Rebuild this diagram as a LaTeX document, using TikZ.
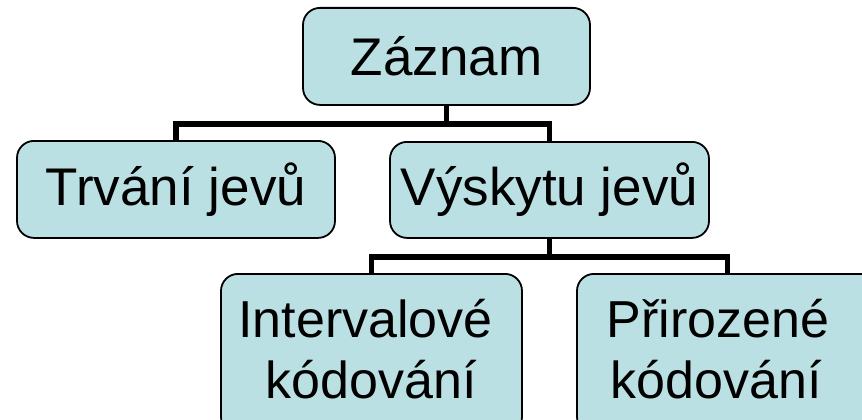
\documentclass[tikz,border=0pt]{standalone}
\usepackage{fontspec}
\setmainfont{Liberation Sans}
\usetikzlibrary{calc}
\definecolor{boxfill}{HTML}{BBE0E3}
\tikzset{
  box/.style={draw=black, line width=1.8pt, fill=boxfill, rounded corners=17pt, inner sep=0pt},
  txt/.style={inner sep=0pt, font=\fontsize{53}{61}\selectfont},
  txtb/.style={inner sep=0pt, font=\fontsize{52}{61}\selectfont},
  conn/.style={line width=5.5pt, line join=miter, draw=black}
}
\begin{document}
\begin{tikzpicture}[x=1pt,y=-1pt]
\useasboundingbox (0,0) rectangle (862,420);
% boxes
\node[box, txt, minimum width=287pt, minimum height=97pt, anchor=north] (zaz) at (446.5,7) {Záznam};
\node[box, txt, minimum width=318pt, minimum height=97pt, anchor=north] (trv) at (176,140) {Trvání jevů};
\node[box, txt, minimum width=319pt, minimum height=96pt, anchor=north] (vys) at (549.5,141) {Výskytu jevů};
\node[box, minimum width=301pt, minimum height=160pt, anchor=north] (int) at (371.5,273) {};
\node[box, minimum width=301pt, minimum height=160pt, anchor=north] (pri) at (727.5,273) {};
\node[txtb, anchor=base] (int1) at (365.5,337) {Intervalové};
\node[txtb, anchor=base] (int2) at (371,398) {kódování};
\node[txtb, anchor=base] (pri1) at (718,337) {Přirozené};
\node[txtb, anchor=base] (pri2) at (716.5,398) {kódování};
% connectors
\coordinate (j1) at ($(zaz.south)+(0,18)$);
\draw[conn] (zaz.south) -- (j1) -| (trv.north);
\draw[conn] (j1) -| (vys.north);
\coordinate (j2) at ($(vys.south)+(0,18)$);
\draw[conn] (vys.south) -- (j2) -| (int.north);
\draw[conn] (j2) -| (pri.north);
\end{tikzpicture}
\end{document}
